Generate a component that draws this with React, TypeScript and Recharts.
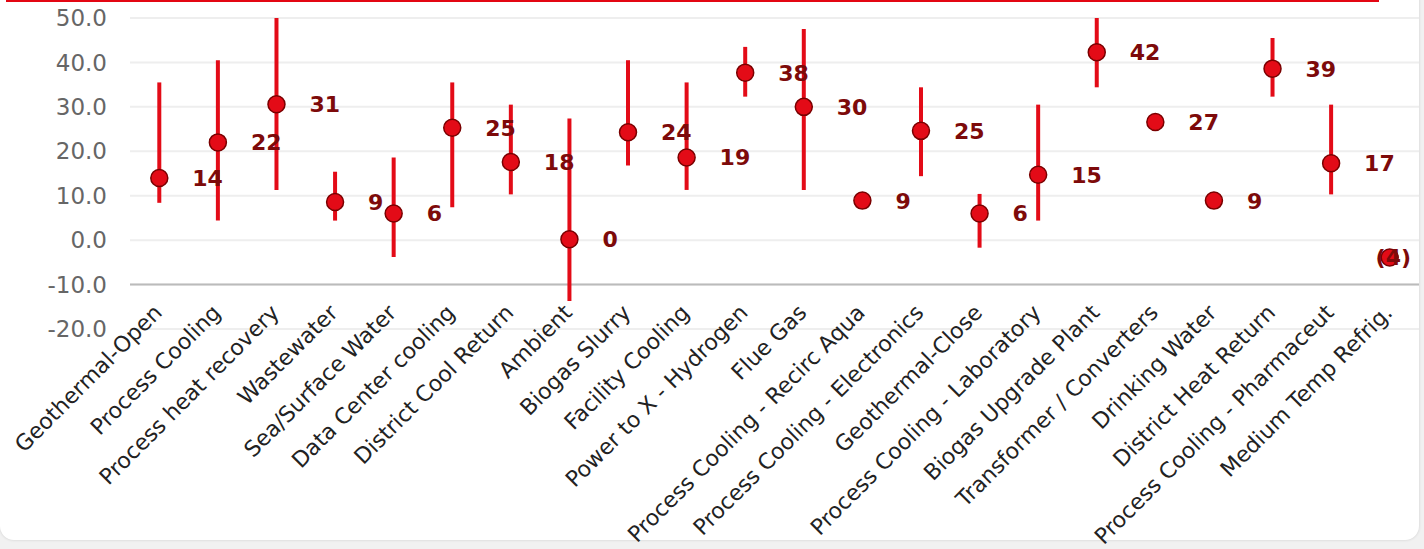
import React from "react"
import { ComposedChart, Line, ErrorBar, XAxis, YAxis, CartesianGrid, ReferenceLine, LabelList } from "recharts"

const categories = [
    "Geothermal-Open", "Process Cooling", "Process heat recovery", "Wastewater", "Sea/Surface Water",
    "Data Center cooling", "District Cool Return", "Ambient", "Biogas Slurry", "Facility Cooling",
    "Power to X - Hydrogen", "Flue Gas", "Process Cooling - Recirc Aqua", "Process Cooling - Electronics",
    "Geothermal-Close", "Process Cooling - Laboratory", "Biogas Upgrade Plant", "Transformer / Converters",
    "Drinking Water", "District Heat Return", "Process Cooling - Pharmaceut", "Medium Temp Refrig.",
]
const means = [14.0, 22.0, 30.6, 8.6, 6.0, 25.3, 17.6, 0.2, 24.3, 18.6, 37.7, 30.0, 8.9, 24.6, 6.0, 14.7, 42.3, 26.6, 8.9, 38.6, 17.3, -3.9]
const mins = [8.4, 4.4, 11.3, 4.4, -3.8, 7.4, 10.3, -13.7, 16.8, 11.3, 32.3, 11.3, null, 14.4, -1.7, 4.4, 34.4, null, null, 32.3, 10.3, null]
const maxs = [35.5, 40.5, 50, 15.4, 18.6, 35.5, 30.5, 27.4, 40.5, 35.5, 43.5, 47.5, null, 34.4, 10.4, 30.5, 50, null, null, 45.5, 30.5, null]
const yTicks = [-20, -10, 0, 10, 20, 30, 40, 50]

const data = categories.map((name, i) => ({
    name,
    value: means[i],
    err: mins[i] == null || maxs[i] == null ? [0, 0] : [means[i] - (mins[i] as number), (maxs[i] as number) - means[i]],
}))

const FONT = "DejaVu Sans"
const RED = "#e30b17"
const PLOT_RIGHT = 1411

const fmt = (v: number) => {
    const r = Math.round(v)
    return r < 0 ? `(${Math.abs(r)})` : `${r}`
}

const ValueLabel = (props: any) => {
    const { x, y, value } = props
    const text = fmt(value)
    const w = text.length * 0.7 * 22
    let tx = x + 33
    let anchor: "start" | "end" = "start"
    if (tx + w > PLOT_RIGHT) {
        tx = PLOT_RIGHT
        anchor = "end"
    }
    return (
        <text x={tx} y={y} dy="0.36em" textAnchor={anchor} fill="#7d0a0a"
            fontFamily={FONT} fontWeight="bold" fontSize={22}>
            {text}
        </text>
    )
}

// x labels hang from the -10 line, where the category axis crosses
const CategoryTick = (props: any) => {
    const { x, y, payload } = props
    const tx = x + 4
    const ty = y - 15
    return (
        <text x={tx} y={ty} transform={`rotate(-45, ${tx}, ${ty})`} textAnchor="end"
            fontFamily={FONT} fontSize={22} fill="#222">
            {payload.value}
        </text>
    )
}

const Dot = (props: any) => {
    const { cx, cy } = props
    if (cx == null || cy == null) return null
    return <circle cx={cx} cy={cy} r={8.5} fill={RED} stroke="#7a0000" strokeWidth={1.5} />
}

export default function App() {
    return (
        <div style={{ position: "fixed", left: 0, top: 0, width: 1424, height: 549, background: "#f1f1f1", overflow: "hidden" }}>
            <div style={{
                position: "absolute", left: 0, top: -14, width: 1419, height: 554,
                background: "#fff", borderRadius: 14, boxShadow: "0 0 3px rgba(0,0,0,0.15)",
            }} />
            <div style={{ position: "absolute", left: 6, top: 0, width: 1373, height: 2, background: "#e30613" }} />
            <div style={{ position: "absolute", left: 0, top: 0 }}>
                <ComposedChart width={1424} height={549} data={data}
                    margin={{ top: 18, right: 5, left: 0, bottom: 0 }}>
                    <CartesianGrid vertical={false} stroke="#eeeeee" strokeWidth={2} />
                    <XAxis dataKey="name" scale="band" interval={0} axisLine={false} tickLine={false} height={220}
                        tickSize={0} tickMargin={0} tick={<CategoryTick />} />
                    <YAxis domain={[-20, 50]} ticks={yTicks} allowDataOverflow width={130}
                        axisLine={false} tickLine={false} tickSize={0} tickMargin={23}
                        tickFormatter={(v: number) => v.toFixed(1)}
                        tick={{ fontFamily: FONT, fontSize: 23, fill: "#666" }} />
                    <ReferenceLine y={-10} stroke="#bbbbbb" strokeWidth={2} />
                    <Line dataKey="value" stroke="none" isAnimationActive={false} dot={<Dot />} activeDot={false}>
                        <ErrorBar dataKey="err" direction="y" width={0} stroke={RED} strokeWidth={4} />
                        <LabelList dataKey="value" content={<ValueLabel />} />
                    </Line>
                </ComposedChart>
            </div>
        </div>
    )
}
